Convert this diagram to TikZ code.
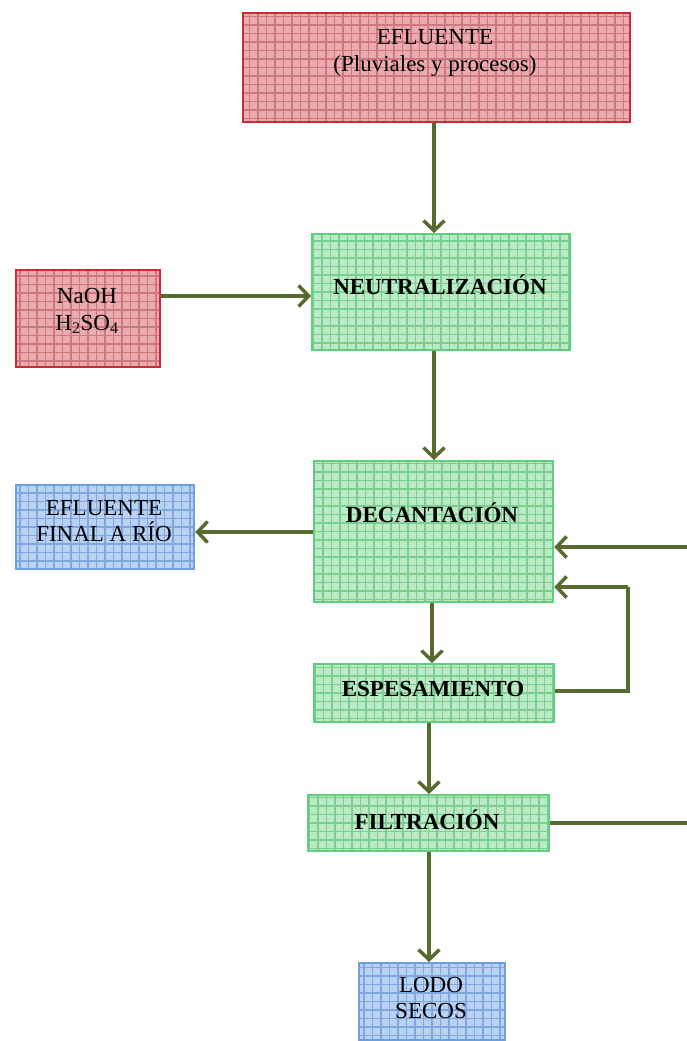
\documentclass[tikz,border=0pt]{standalone}
\usepackage{fontspec}
\setmainfont{Liberation Serif}
\usetikzlibrary{arrows.meta}

\definecolor{redline}{HTML}{CC2A36}
\definecolor{redfill}{HTML}{EBACB0}
\definecolor{redgrid}{HTML}{CF7880}
\definecolor{greenline}{HTML}{5DD07D}
\definecolor{greenfill}{HTML}{BCE9C6}
\definecolor{greengrid}{HTML}{7CCF90}
\definecolor{blueline}{HTML}{6FA0DC}
\definecolor{bluefill}{HTML}{BAD2F1}
\definecolor{bluegrid}{HTML}{7FA8E0}
\definecolor{flow}{HTML}{566B2E}

\tikzset{
  gridbox/.style n args={3}{
    draw=#1, fill=#2, line width=2.2pt, inner sep=0pt, anchor=north west,
    path picture={
      \draw[#3, line width=1.3pt, step=8.5pt]
        (path picture bounding box.south west) grid (path picture bounding box.north east);
    }
  },
  redbox/.style={gridbox={redline}{redfill}{redgrid}},
  greenbox/.style={gridbox={greenline}{greenfill}{greengrid}},
  bluebox/.style={gridbox={blueline}{bluefill}{bluegrid}},
  label text/.style={font=\fontsize{23}{26.5}\selectfont, align=center, inner sep=0pt, text=black},
  bold text/.style={label text, font=\fontsize{23}{26.5}\selectfont\bfseries},
  flowline/.style={draw=flow, line width=3.5pt},
  flowarrow/.style={flowline, -{Straight Barb[length=10pt,width=21pt,line width=3.5pt]}}
}

\begin{document}
\begin{tikzpicture}[x=1pt, y=-1pt]
  \useasboundingbox (0,0) rectangle (687,1041);

  % boxes
  \node[redbox, minimum width=387pt, minimum height=109pt] (efl) at (242,12) {};
  \node[redbox, minimum width=144pt, minimum height=97pt] (react) at (15,269) {};
  \node[greenbox, minimum width=258pt, minimum height=116pt] (neu) at (311,233) {};
  \node[greenbox, minimum width=239pt, minimum height=141pt] (dec) at (313,460) {};
  \node[bluebox, minimum width=178pt, minimum height=84pt] (rio) at (15,484) {};
  \node[greenbox, minimum width=240pt, minimum height=58pt] (esp) at (313,663) {};
  \node[greenbox, minimum width=241pt, minimum height=56pt] (fil) at (307,794) {};
  \node[bluebox, minimum width=146pt, minimum height=77pt] (lodo) at (358,962) {};

  % texts
  \node[label text] (eflT) at (435,53) {EFLUENTE\\(Pluviales y procesos)};
  \node[label text] (reactT) at (87,311) {NaOH\\H\textsubscript{2}SO\textsubscript{4}};
  \node[bold text] (neuT) at (440,285) {NEUTRALIZACIÓN};
  \node[bold text] (decT) at (432,513) {DECANTACIÓN};
  \node[label text] (rioT) at (104,521) {EFLUENTE\\FINAL A RÍO};
  \node[bold text] (espT) at (433,689) {ESPESAMIENTO};
  \node[bold text] (filT) at (427,820) {FILTRACIÓN};
  \node[label text] (lodoT) at (431,998) {LODO\\SECOS};

  % free ends and bends
  \coordinate (inR) at (687,547);
  \coordinate (outR) at (687,823);
  \coordinate (bendA) at (628,691);
  \coordinate (bendB) at (628,587);

  % connectors
  \draw[flowarrow] (efl.south -| 434,0) -- (neu.north -| 434,0);
  \draw[flowarrow] (react.east |- 0,296) -- (neu.west |- 0,296);
  \draw[flowarrow] (neu.south -| 434,0) -- (dec.north -| 434,0);
  \draw[flowarrow] (dec.west |- 0,532) -- (rio.east |- 0,532);
  \draw[flowarrow] (dec.south -| 432,0) -- (esp.north -| 432,0);
  \draw[flowline] (esp.east |- bendA) -- (bendA) -- (bendB);
  \draw[flowarrow] (bendB) -- (dec.east |- bendB);
  \draw[flowarrow] (inR) -- (dec.east |- inR);
  \draw[flowarrow] (esp.south -| 429,0) -- (fil.north -| 429,0);
  \draw[flowline] (fil.east |- outR) -- (outR);
  \draw[flowarrow] (fil.south -| 429,0) -- (lodo.north -| 429,0);
\end{tikzpicture}
\end{document}
